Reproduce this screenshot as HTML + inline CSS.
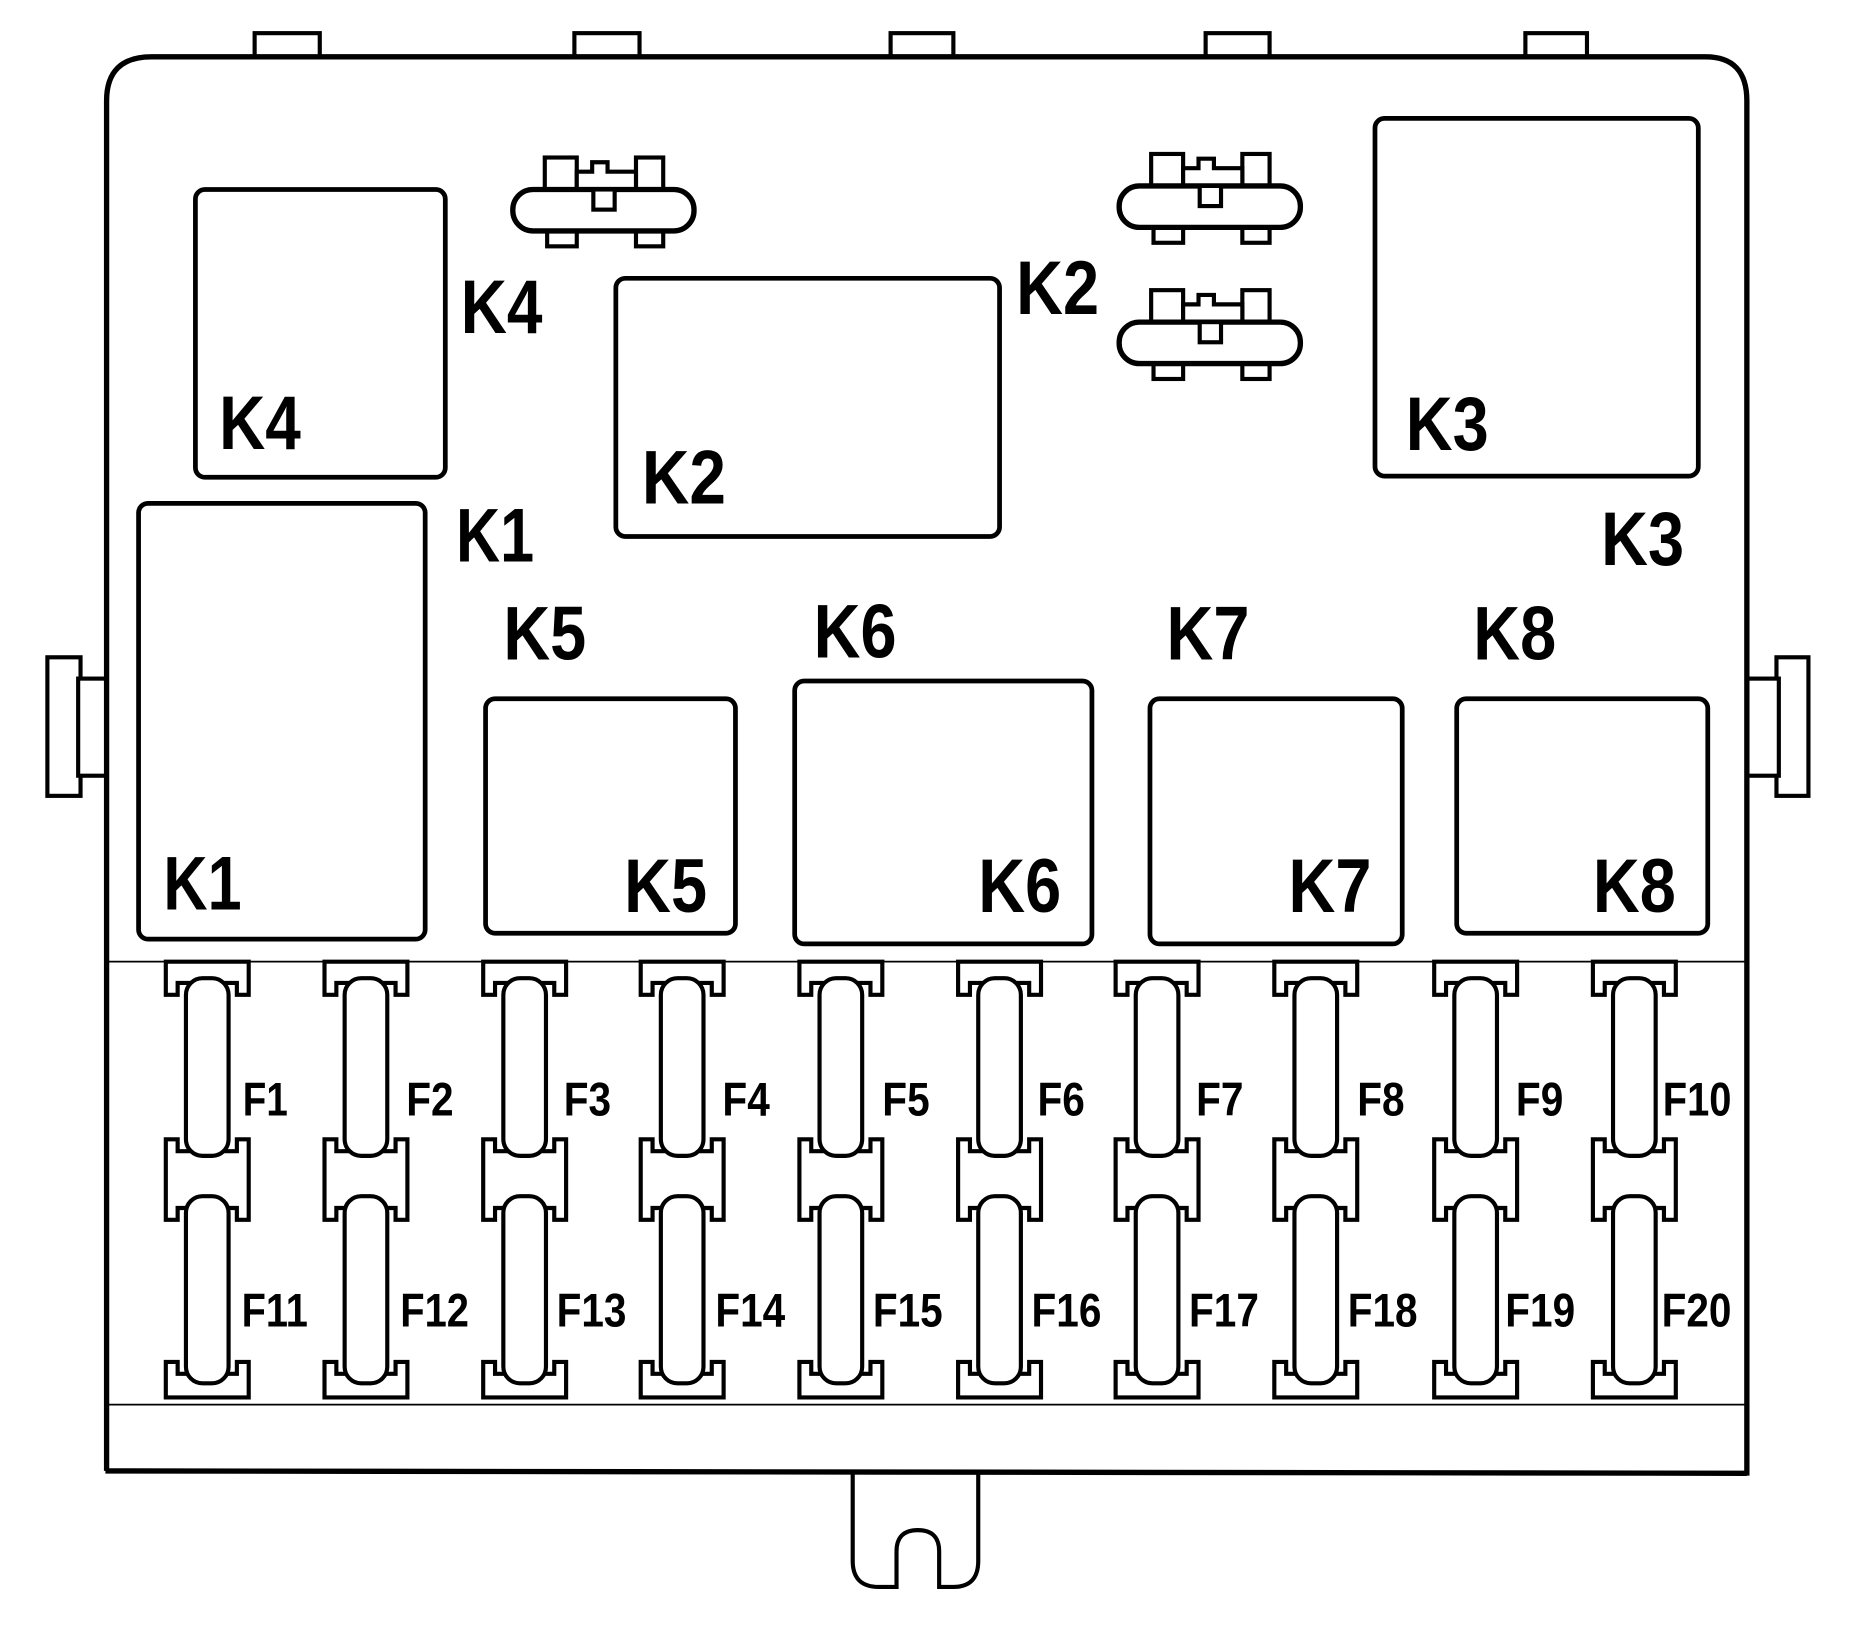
<!DOCTYPE html>
<html><head><style>html,body{margin:0;padding:0;background:#fff}svg{display:block}
text{font-family:"Liberation Sans",sans-serif;font-weight:bold;fill:#000}
</style></head><body>
<svg width="1857" height="1645" viewBox="0 0 1568 1389" xmlns="http://www.w3.org/2000/svg">
<defs>
<g id="fuse" fill="#fff" stroke="#000" stroke-width="3.5">
<path d="M-35,812 V840 H-25 V830 H25 V840 H35 V812 Z"/>
<path d="M-35,962 V1030 H-25 V1020 H25 V1030 H35 V962 H25 V972 H-25 V962 Z"/>
<path d="M-35,1180 V1150 H-25 V1160 H25 V1150 H35 V1180 Z"/>
<rect x="-18" y="826" width="36" height="150" rx="14"/>
<rect x="-18" y="1010" width="36" height="158" rx="14"/>
</g>
<g id="conn" fill="#fff" stroke="#000" stroke-width="3.5">
<rect x="27" y="0" width="27" height="27"/>
<rect x="104" y="0" width="23" height="27"/>
<path d="M54,12 H67 V4 H80 V12 H104 V27 H54 Z"/>
<rect x="29" y="60" width="25" height="15"/>
<rect x="104" y="60" width="23" height="15"/>
<rect x="0" y="27" width="153" height="35" rx="17" stroke-width="4.5"/>
<rect x="68" y="27" width="18" height="17"/>
</g>
</defs>
<g fill="#fff" stroke="#000" stroke-width="3.5">
<rect x="215" y="28" width="55" height="22"/><rect x="485" y="28" width="55" height="22"/>
<rect x="752" y="28" width="53" height="22"/><rect x="1018" y="28" width="54" height="22"/>
<rect x="1288" y="28" width="52" height="22"/>
<rect x="40" y="555" width="28" height="117"/><rect x="66" y="573" width="26" height="82"/>
<rect x="1500" y="555" width="27" height="117"/><rect x="1474" y="573" width="28" height="82"/>
<path d="M720,1242 V1318 Q720,1340 742,1340 H757 V1310 Q757,1292 775,1292 Q793,1292 793,1310 V1340 H805 Q826,1340 826,1318 V1242 Z"/>
<path d="M90,1242 V85 Q90,48 128,48 H1440 Q1475,48 1475,85 V1246" stroke-width="4.5"/>
<line x1="89" y1="1242" x2="1475" y2="1244" stroke-width="4.5"/>
</g>
<g stroke="#000" stroke-width="1.5"><line x1="92" y1="812" x2="1473" y2="812"/><line x1="92" y1="1186" x2="1473" y2="1186"/></g>
<g fill="none" stroke="#000" stroke-width="4">
<rect x="165" y="160" width="211" height="243" rx="8"/>
<rect x="520" y="235" width="324" height="218" rx="8"/>
<rect x="1161" y="100" width="273" height="302" rx="8"/>
<rect x="117" y="425" width="242" height="368" rx="8"/>
<rect x="410" y="590" width="211" height="198" rx="8"/>
<rect x="671" y="575" width="251" height="222" rx="8"/>
<rect x="971" y="590" width="213" height="207" rx="8"/>
<rect x="1230" y="590" width="212" height="198" rx="8"/>
</g>
<use href="#conn" x="433" y="133"/><use href="#conn" x="945" y="130"/><use href="#conn" x="945" y="245"/>
<use href="#fuse" x="175"/><use href="#fuse" x="309"/><use href="#fuse" x="443"/><use href="#fuse" x="576"/><use href="#fuse" x="710"/>
<use href="#fuse" x="844"/><use href="#fuse" x="977"/><use href="#fuse" x="1111"/><use href="#fuse" x="1246"/><use href="#fuse" x="1380"/>
<g font-size="64">
<text x="185" y="379" textLength="69" lengthAdjust="spacingAndGlyphs">K4</text><text x="389" y="281" textLength="69" lengthAdjust="spacingAndGlyphs">K4</text>
<text x="542" y="425" textLength="71" lengthAdjust="spacingAndGlyphs">K2</text><text x="858" y="265" textLength="70" lengthAdjust="spacingAndGlyphs">K2</text>
<text x="1187" y="380" textLength="70" lengthAdjust="spacingAndGlyphs">K3</text><text x="1352" y="477" textLength="70" lengthAdjust="spacingAndGlyphs">K3</text>
<text x="138" y="768" textLength="66" lengthAdjust="spacingAndGlyphs">K1</text><text x="385" y="474" textLength="66" lengthAdjust="spacingAndGlyphs">K1</text>
<text x="527" y="770" textLength="70" lengthAdjust="spacingAndGlyphs">K5</text><text x="425" y="557" textLength="70" lengthAdjust="spacingAndGlyphs">K5</text>
<text x="826" y="770" textLength="70" lengthAdjust="spacingAndGlyphs">K6</text><text x="687" y="555" textLength="70" lengthAdjust="spacingAndGlyphs">K6</text>
<text x="1088" y="770" textLength="70" lengthAdjust="spacingAndGlyphs">K7</text><text x="985" y="557" textLength="70" lengthAdjust="spacingAndGlyphs">K7</text>
<text x="1345" y="770" textLength="70" lengthAdjust="spacingAndGlyphs">K8</text><text x="1244" y="557" textLength="70" lengthAdjust="spacingAndGlyphs">K8</text>
</g>
<g font-size="40">
<text x="205" y="942" textLength="38" lengthAdjust="spacingAndGlyphs">F1</text><text x="343" y="942" textLength="40" lengthAdjust="spacingAndGlyphs">F2</text><text x="476" y="942" textLength="40" lengthAdjust="spacingAndGlyphs">F3</text><text x="610" y="942" textLength="40" lengthAdjust="spacingAndGlyphs">F4</text><text x="745" y="942" textLength="40" lengthAdjust="spacingAndGlyphs">F5</text>
<text x="876" y="942" textLength="40" lengthAdjust="spacingAndGlyphs">F6</text><text x="1010" y="942" textLength="40" lengthAdjust="spacingAndGlyphs">F7</text><text x="1146" y="942" textLength="40" lengthAdjust="spacingAndGlyphs">F8</text><text x="1280" y="942" textLength="40" lengthAdjust="spacingAndGlyphs">F9</text><text x="1404" y="942" textLength="58" lengthAdjust="spacingAndGlyphs">F10</text>
<text x="204" y="1120" textLength="56" lengthAdjust="spacingAndGlyphs">F11</text><text x="338" y="1120" textLength="58" lengthAdjust="spacingAndGlyphs">F12</text><text x="470" y="1120" textLength="59" lengthAdjust="spacingAndGlyphs">F13</text><text x="604" y="1120" textLength="59" lengthAdjust="spacingAndGlyphs">F14</text><text x="737" y="1120" textLength="59" lengthAdjust="spacingAndGlyphs">F15</text>
<text x="871" y="1120" textLength="59" lengthAdjust="spacingAndGlyphs">F16</text><text x="1004" y="1120" textLength="59" lengthAdjust="spacingAndGlyphs">F17</text><text x="1138" y="1120" textLength="59" lengthAdjust="spacingAndGlyphs">F18</text><text x="1271" y="1120" textLength="59" lengthAdjust="spacingAndGlyphs">F19</text><text x="1403" y="1120" textLength="59" lengthAdjust="spacingAndGlyphs">F20</text>
</g>
</svg>
</body></html>
